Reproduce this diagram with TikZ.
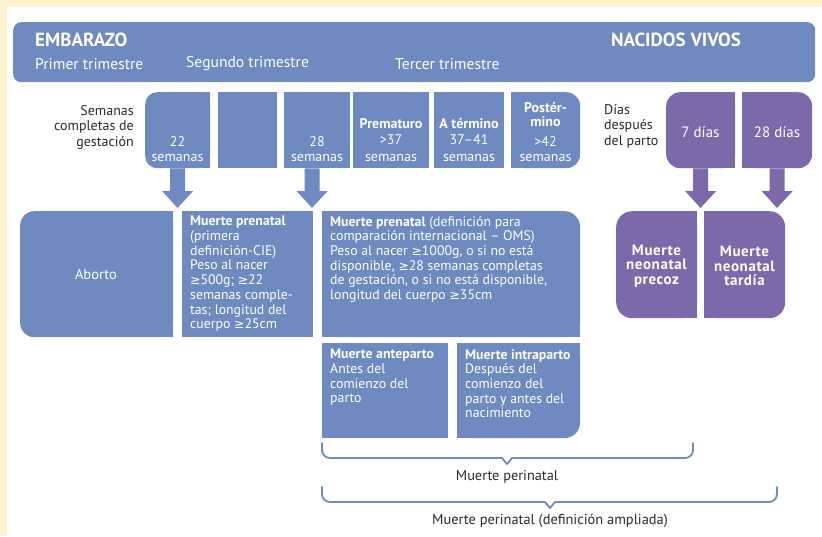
\documentclass[tikz,border=0pt]{standalone}
\usepackage{fontspec}
\setmainfont{PT Sans}
\newfontfamily\symf[Scale=0.9]{DejaVu Sans}
\newcommand\gesym{{\symf ≥}}
\usetikzlibrary{arrows.meta,calc}
\definecolor{bblue}{HTML}{6E8AC0}
\definecolor{bpurp}{HTML}{7D69A9}
\definecolor{cream}{HTML}{FFF2CE}
\definecolor{dtext}{HTML}{2A2A2A}
\tikzset{
  boxn/.style={draw=none, fill=bblue, inner sep=0, anchor=north west},
  pboxn/.style={boxn, fill=bpurp},
  wtxt/.style={text=white, inner sep=0, align=left, font=\fontsize{13.8}{14.7}\selectfont},
  ctxt/.style={text=white, inner sep=0, align=center, font=\fontsize{14}{15}\selectfont},
  dtxt/.style={text=dtext, inner sep=0, font=\fontsize{14}{15.5}\selectfont},
  btxt/.style={text=white, inner sep=0, anchor=west},
  barrow/.style={draw=bblue, line width=15pt, -{Triangle[width=30pt,length=17pt]}},
  parrow/.style={barrow, draw=bpurp},
  bracel/.style={draw=bblue, line width=1.8pt, line cap=round, line join=round},
}
\begin{document}
\begin{tikzpicture}[x=1pt,y=-1pt]
\useasboundingbox (0,0) rectangle (822,536);
\fill[cream] (0,0) rectangle (822,536);
\fill[white] (7,7) rectangle (822,536);

% banner
\node[boxn, minimum width=802, minimum height=60, rounded corners=8] (banner) at (13,22) {};
\node[btxt, font=\fontsize{19}{21}\selectfont\bfseries] (emb) at (35,40) {EMBARAZO};
\node[btxt, font=\fontsize{19}{21}\selectfont\bfseries] (nv) at (611,40) {NACIDOS VIVOS};
\node[btxt, font=\fontsize{15.6}{17}\selectfont] (t1) at (35,64) {Primer trimestre};
\node[btxt, font=\fontsize{15.6}{17}\selectfont] (t2) at (186,64) {Segundo trimestre};
\node[btxt, font=\fontsize{15.6}{17}\selectfont] (t3) at (395,64) {Tercer trimestre};

% week boxes
\node[boxn, minimum width=65, minimum height=76, rounded corners=12] (w1) at (145,92) {};
\fill[bblue] (w1.north) rectangle (w1.south east);
\node[boxn, minimum width=59, minimum height=76] (w2) at (218,92) {};
\node[boxn, minimum width=66, minimum height=76] (w3) at (284,92) {};
\node[boxn, minimum width=76, minimum height=76] (w4) at (353,92) {};
\node[boxn, minimum width=70, minimum height=76] (w5) at (434,92) {};
\node[boxn, minimum width=69, minimum height=76, rounded corners=14] (w6) at (511,92) {};
\fill[bblue] (w6.north west) rectangle (w6.south);

\node[ctxt] (w1t) at (177.5,149.5) {22\\semanas};
\node[ctxt] (w3t) at (317,149.5) {28\\semanas};
\node[ctxt, font=\fontsize{14}{16.5}\selectfont] (w4t) at (391,140) {\bfseries Prematuro\\>37\\semanas};
\node[ctxt, font=\fontsize{14}{16.5}\selectfont] (w5t) at (469,140) {\bfseries A término\\37–41\\semanas};
\node[ctxt, font=\fontsize{14}{13.5}\selectfont\bfseries] (w6a) at (545.5,114.5) {Postér-\\mino};
\node[ctxt] (w6b) at (545.5,149.5) {>42\\semanas};

\node[dtxt, anchor=east, align=right] (sem) at (134,127) {Semanas\\completas de\\gestación};
\node[dtxt, anchor=west, align=left] (dias) at (604,126) {Días\\después\\del parto};

% purple boxes
\node[pboxn, minimum width=69, minimum height=76, rounded corners=14] (p1) at (666,92) {};
\fill[bpurp] (p1.north) rectangle (p1.south east);
\node[pboxn, minimum width=70, minimum height=76, rounded corners=14] (p2) at (742,92) {};
\fill[bpurp] (p2.north west) rectangle (p2.south);
\node[ctxt, font=\fontsize{15}{16}\selectfont] (p1t) at (700.5,132) {7 días};
\node[ctxt, font=\fontsize{15}{16}\selectfont] (p2t) at (777,132) {28 días};

% third row
\node[boxn, minimum width=153, minimum height=126, rounded corners=14] (ab) at (20,211) {};
\fill[bblue] (ab.north) rectangle (ab.south east);
\node[boxn, minimum width=131, minimum height=126] (mp1) at (182,211) {};
\node[boxn, minimum width=258, minimum height=126, rounded corners=16] (mp2) at (322,211) {};
\fill[bblue] (mp2.north west) rectangle ($(mp2.south east)+(-30,0)$);
\fill[bblue] (mp2.west) rectangle (mp2.south east);
\node[boxn, minimum width=126, minimum height=95] (ante) at (322,343) {};
\node[boxn, minimum width=123, minimum height=95, rounded corners=16] (intra) at (457,343) {};
\fill[bblue] (intra.north west) rectangle ($(intra.south east)+(-30,0)$);
\fill[bblue] (intra.north west) rectangle (intra.east);
\node[pboxn, minimum width=81, minimum height=107, rounded corners=16] (n1) at (616,211) {};
\fill[bpurp] (n1.north) rectangle (n1.south east);
\node[pboxn, minimum width=81, minimum height=107, rounded corners=16] (n2) at (704,211) {};
\fill[bpurp] (n2.north west) rectangle (n2.south);

\node[ctxt, font=\fontsize{14.5}{15}\selectfont] (abt) at (96,274) {Aborto};
\node[wtxt, anchor=north west] (mp1t) at (190,216) {\textbf{Muerte prenatal}\\(primera\\definición-CIE)\\Peso al nacer\\\gesym500g; \gesym22\\semanas comple-\\tas; longitud del\\cuerpo \gesym25cm};
\node[wtxt, anchor=north west] (mp2t) at (330,216) {\textbf{Muerte prenatal} (definición para\\comparación internacional – OMS)\\Peso al nacer \gesym1000g, o si no está\\disponible, \gesym28 semanas completas\\de gestación, o si no está disponible,\\longitud del cuerpo \gesym35cm};
\node[wtxt, anchor=north west] (antet) at (330,349) {\textbf{Muerte anteparto}\\Antes del\\comienzo del\\parto};
\node[wtxt, anchor=north west] (intrat) at (465,349) {\textbf{Muerte intraparto}\\Después del\\comienzo del\\parto y antes del\\nacimiento};
\node[ctxt, font=\fontsize{15}{14.5}\selectfont\bfseries\addfontfeature{LetterSpace=4}] (n1t) at (656.5,266) {Muerte\\neonatal\\precoz};
\node[ctxt, font=\fontsize{15}{14.5}\selectfont\bfseries\addfontfeature{LetterSpace=4}] (n2t) at (744.5,266) {Muerte\\neonatal\\tardía};

% arrows
\coordinate (a1e) at (177.5,208);
\coordinate (a2s) at ($(w3.south)+(-5,0)$);
\coordinate (a2e) at (312,208);
\draw[barrow] (w1.south) -- (a1e);
\draw[barrow] (a2s) -- (a2e);
\coordinate (a3e) at (700.5,208);
\coordinate (a4e) at (777,208);
\draw[parrow] (p1.south) -- (a3e);
\draw[parrow] (p2.south) -- (a4e);

% braces
\coordinate (b1l) at (322,443);
\coordinate (b1r) at (693,443);
\coordinate (b1t) at (507,464);
\draw[bracel, rounded corners=8] (b1l) -- (322,458) -- (502,458);
\draw[bracel] (502,458) -- (b1t) -- (512,458);
\draw[bracel, rounded corners=8] (512,458) -- (693,458) -- (b1r);
\node[dtxt, font=\fontsize{14.3}{15}\selectfont] (l1) at (507,477) {Muerte perinatal};

\coordinate (b2l) at (322,487);
\coordinate (b2r) at (777,487);
\coordinate (b2t) at (550,508);
\draw[bracel, rounded corners=8] (b2l) -- (322,502) -- (545,502);
\draw[bracel] (545,502) -- (b2t) -- (555,502);
\draw[bracel, rounded corners=8] (555,502) -- (777,502) -- (b2r);
\node[dtxt, font=\fontsize{14.4}{15}\selectfont] (l2) at (550,521) {Muerte perinatal (definición ampliada)};
\end{tikzpicture}
\end{document}
